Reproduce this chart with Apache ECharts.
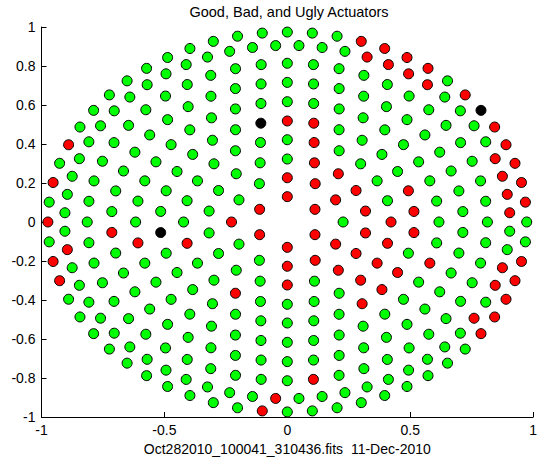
<!DOCTYPE html>
<html>
<head>
<meta charset="utf-8">
<script src="https://cdn.jsdelivr.net/npm/echarts@6/dist/echarts.min.js"></script>
<style>
  html, body { margin: 0; padding: 0; background: #fff; }
  #chart { width: 540px; height: 465px; }
</style>
</head>
<body>
<div id="chart"></div>
<script>
// Actuator rings: radius (pupil units), number of actuators, angle of actuator 0 (deg)
const ringRadius = [0.13, 0.227, 0.323, 0.422, 0.518, 0.617, 0.716, 0.814, 0.906, 0.974];
const ringCount  = [6, 12, 18, 24, 30, 36, 42, 48, 60, 60];
const ringPhase  = [30, 0, 10, 0, 6, 0, 90, 0, 3, 0];

// Bad (red) actuators per ring, by angle in degrees
const badAngles = [
  [30, 90, 150, 210, 270, 330],
  [30, 60, 90, 180, 270, 300, 330],
  [10, 30, 50, 70, 270, 310, 330, 350],
  [0, 75, 195, 240, 315, 330, 345],
  [6, 18, 78, 90, 306, 318, 330, 354],
  [190, 340],
  [184.3],
  [277.5],
  [3, 9, 15, 21, 51, 57, 63, 69, 189, 267, 327, 339, 345],
  [6, 12, 18, 24, 30, 42, 54, 60, 66, 72, 156, 168, 180, 192, 198, 264, 324, 330, 336, 342, 348]
];
// Ugly (black) actuators per ring, by angle in degrees
const uglyAngles = [[], [], [], [], [102, 186], [], [], [], [], [36]];

const xTickLabels = ['-1', '-0.5', '0', '0.5', '1'];
const yTickLabels = ['-1', '-0.8', '-0.6', '-0.4', '-0.2', '0', '0.2', '0.4', '0.6', '0.8', '1'];

const chartTitle = 'Good, Bad, and Ugly Actuators';
const xLabel = 'Oct282010_100041_310436.fits  11-Dec-2010';

const good = [], bad = [], ugly = [];
function angleMatch(list, a, tol) {
  return list.some(function (b) {
    let d = Math.abs(((a - b) % 360 + 540) % 360 - 180);
    return d < tol;
  });
}
ringRadius.forEach(function (r, k) {
  const step = 360 / ringCount[k];
  for (let j = 0; j < ringCount[k]; j++) {
    const a = (ringPhase[k] + j * step) % 360;
    const t = a * Math.PI / 180;
    const p = [r * Math.cos(t), r * Math.sin(t)];
    if (angleMatch(uglyAngles[k], a, step / 2)) ugly.push(p);
    else if (angleMatch(badAngles[k], a, step / 2)) bad.push(p);
    else good.push(p);
  }
});

const font = 'Liberation Sans, Arial, Helvetica, sans-serif';
function markerSeries(name, data, color) {
  return {
    name: name,
    type: 'scatter',
    data: data,
    symbol: 'circle',
    symbolSize: 10,
    itemStyle: { color: color, borderColor: '#000', borderWidth: 1, opacity: 1 },
    emphasis: { disabled: true },
    silent: true
  };
}

const chart = echarts.init(document.getElementById('chart'), null, { renderer: 'svg' });
chart.setOption({
  animation: false,
  backgroundColor: '#fff',
  title: {
    text: chartTitle,
    left: 289,
    top: 4,
    padding: 0,
    textAlign: 'center',
    textStyle: { color: '#000', fontSize: 14.5, fontWeight: 'normal', fontFamily: font }
  },
  grid: { left: 41.5, right: 3, top: 27, bottom: 48, containLabel: false },
  xAxis: {
    type: 'value', min: -1, max: 1, interval: 0.5,
    axisLine: { show: true, onZero: false, lineStyle: { color: '#000', width: 1 } },
    axisTick: { show: true, inside: true, length: 5, lineStyle: { color: '#000', width: 1 } },
    axisLabel: {
      color: '#000', fontSize: 14, fontFamily: font, margin: 6,
      formatter: function (v) { return xTickLabels[Math.round((v + 1) / 0.5)]; }
    },
    splitLine: { show: false },
    name: xLabel,
    nameLocation: 'middle',
    nameGap: 24,
    nameTextStyle: { color: '#000', fontSize: 14, fontFamily: font }
  },
  yAxis: {
    type: 'value', min: -1, max: 1, interval: 0.2,
    axisLine: { show: true, onZero: false, lineStyle: { color: '#000', width: 1 } },
    axisTick: { show: true, inside: true, length: 5, lineStyle: { color: '#000', width: 1 } },
    axisLabel: {
      color: '#000', fontSize: 14, fontFamily: font, margin: 6,
      formatter: function (v) { return yTickLabels[Math.round((v + 1) / 0.2)]; }
    },
    splitLine: { show: false }
  },
  series: [
    markerSeries('Good', good, '#00ff00'),
    markerSeries('Bad', bad, '#ff0000'),
    markerSeries('Ugly', ugly, '#000000')
  ]
});
</script>
</body>
</html>
